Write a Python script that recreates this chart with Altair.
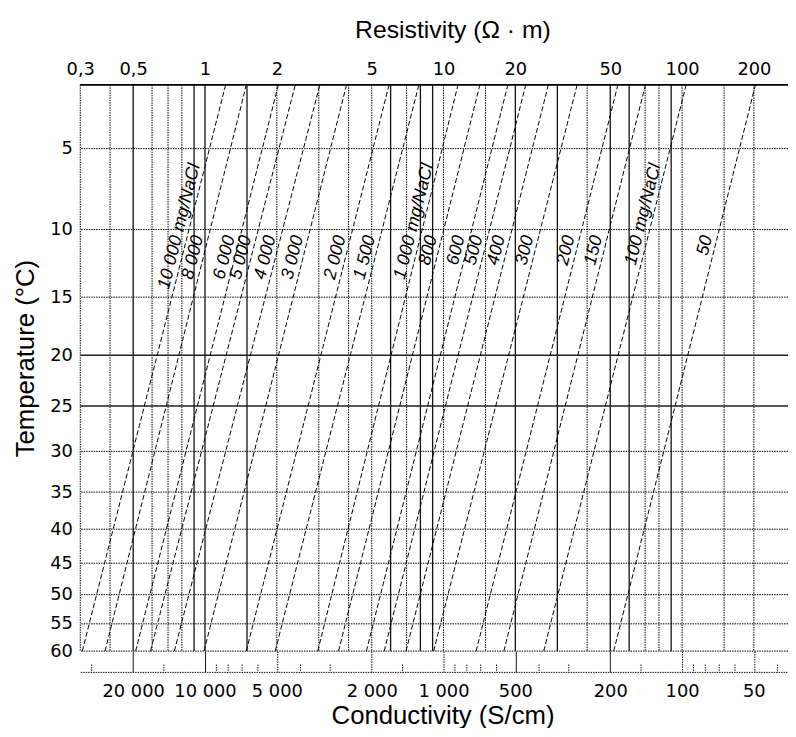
import math
import altair as alt
import pandas as pd

# ---------------- data ----------------
# vertical grid (resistivity, ohm*m)
grid_dotted_R = [0.3, 0.4, 0.6, 0.7, 0.8, 2, 3, 4, 5, 7, 10, 15, 40, 70, 80, 100, 150, 200]
grid_solid_R = [0.5, 0.9, 1, 1.5, 6, 8, 9, 20, 30, 50, 60, 90]
# horizontal grid (temperature, °C)
temp_dotted = [5, 10, 15, 30, 35, 40, 45, 50, 55, 60]
temp_solid = [20, 25]
temp_top = 1.7
temp_bottom = 60
temp_ticks = [5, 10, 15, 20, 25, 30, 35, 40, 45, 50, 55, 60]

top_tick_values = [0.3, 0.5, 1, 2, 5, 10, 20, 50, 100, 200]
top_tick_labels = ["0,3", "0,5", "1", "2", "5", "10", "20", "50", "100", "200"]

cond_major = [20000, 10000, 5000, 2000, 1000, 500, 200, 100, 50]
cond_major_labels = ["20 000", "10 000", "5 000", "2 000", "1 000", "500", "200", "100", "50"]
cond_major_solid = [20000, 10000, 500, 200]
cond_minor = [30000, 15000, 9000, 8000, 7000, 6000, 4000, 3000, 1500, 900, 800,
              700, 600, 400, 300, 150, 90, 80, 70, 60, 40]
COND_PER_RES = 10000.0  # conductivity = 10000 / resistivity

salinity_labels = ["10 000", "8 000", "6 000", "5 000", "4 000", "3 000", "2 000", "1 500",
                   "1 000", "800", "600", "500", "400", "300", "200", "150", "100", "50"]
salinity_unit = ["mg/NaCl", "", "", "", "", "", "", "", "mg/NaCl", "", "", "", "", "",
                 "", "", "mg/NaCl", ""]
# resistivity of each salinity line at top edge and at 60 °C
R_top = [1.22, 1.49, 2.03, 2.39, 3.03, 3.92, 5.91, 7.88, 11.5, 14.2, 18.6, 22.1, 27.5,
         36.3, 53.8, 70.2, 104, 203]
R_bottom = [0.306, 0.381, 0.512, 0.591, 0.744, 0.991, 1.49, 1.97, 2.97, 3.63, 4.75, 5.64,
            6.96, 9.09, 13.7, 17.9, 26.3, 51.7]
label_T = 10.6

# ---------------- tables ----------------
lines_rows = []
for lab, rt, rb in zip(salinity_labels, R_top, R_bottom):
    lines_rows.append({"sal": lab, "T": temp_top, "R": rt})
    lines_rows.append({"sal": lab, "T": temp_bottom, "R": rb})
df_lines = pd.DataFrame(lines_rows)

SYM_C = 18.0
def s(t):
    return math.log1p(t / SYM_C)
frac = (s(label_T) - s(temp_top)) / (s(temp_bottom) - s(temp_top))
lab_rows = []
for lab, unit, rt, rb in zip(salinity_labels, salinity_unit, R_top, R_bottom):
    lr = math.log10(rt) + frac * (math.log10(rb) - math.log10(rt))
    lab_rows.append({"sal": lab, "unit": unit, "T": label_T, "R": 10 ** lr})
df_lab = pd.DataFrame(lab_rows)
df_unit = df_lab[df_lab["unit"] != ""]

df_vdot = pd.DataFrame({"R": grid_dotted_R})
df_vsolid = pd.DataFrame({"R": grid_solid_R})
df_hdot = pd.DataFrame({"T": temp_dotted})
df_hsolid = pd.DataFrame({"T": temp_solid})
df_border = pd.DataFrame({"T": [temp_top]})


def label_expr(values, labels):
    expr = "''"
    for v, l in reversed(list(zip(values, labels))):
        expr = f"datum.value == {v!r} ? '{l}' : ({expr})"
    return expr


major_R = [COND_PER_RES / c for c in cond_major]
major_solid_R = [COND_PER_RES / c for c in cond_major_solid]
minor_R = [COND_PER_RES / c for c in cond_minor]

W, H = 715, 572
FONT = "DejaVu Sans"
TFONT = "Liberation Sans"
DOT = [1.5, 1]
xscale = alt.Scale(type="log", domain=[0.3, 278], nice=False)
yscale = alt.Scale(type="symlog", constant=SYM_C, domain=[temp_top, temp_bottom],
                   reverse=True, nice=False)

top_axis = alt.Axis(orient="top", values=top_tick_values,
                    labelExpr=label_expr(top_tick_values, top_tick_labels),
                    ticks=False, tickSize=0, domain=False, grid=False,
                    labelFont=FONT, labelFontSize=18, labelColor="#000", labelPadding=7,
                    labelFlush=False, labelOverlap=False,
                    title="Resistivity  (Ω · m)", titleFont=TFONT, titleFontSize=25,
                    titleFontWeight="normal", titleColor="#000",
                    titleX=376, titleY=-56, titleAlign="center", titleBaseline="middle")

major_axis = alt.Axis(orient="bottom", values=major_R, labels=False, domain=False,
                      grid=False, ticks=True, tickSize=21, tickWidth=1, tickColor="#111",
                      tickDash={"condition": {"test": f"indexof({major_solid_R}, datum.value) >= 0",
                                              "value": []},
                                "value": DOT},
                      title=None)

minor_axis = alt.Axis(orient="bottom", values=minor_R, labels=False, domain=False,
                      grid=False, ticks=True, tickSize=8, tickWidth=1, tickColor="#222",
                      tickDash=DOT, offset=13, title=None)

cond_axis = alt.Axis(orient="bottom", values=major_R,
                     labelExpr=label_expr(major_R, cond_major_labels),
                     ticks=False, tickSize=0, grid=False, domain=True,
                     domainColor="#111", domainWidth=1, domainDash=DOT, offset=21,
                     labelFont=FONT, labelFontSize=18, labelColor="#000", labelPadding=11,
                     labelFlush=False, labelOverlap=False,
                     title="Conductivity  (S/cm)", titleFont=TFONT, titleFontSize=26,
                     titleFontWeight="normal", titleColor="#000",
                     titleX=366, titleY=44, titleAlign="center", titleBaseline="middle")

left_axis = alt.Axis(orient="left", values=temp_ticks, ticks=False, tickSize=0, domain=False,
                     grid=False, labelFont=FONT, labelFontSize=18, labelColor="#000",
                     labelPadding=8, labelOverlap=False,
                     title="Temperature  (°C)", titleFont=TFONT, titleFontSize=26,
                     titleFontWeight="normal", titleColor="#000", titleAngle=270,
                     titleX=-55, titleY=276, titleAlign="center", titleBaseline="middle")

vdot = alt.Chart(df_vdot).mark_rule(stroke="#000", strokeWidth=1, strokeDash=DOT).encode(
    x=alt.X("R:Q", scale=xscale, axis=top_axis))
vsolid = alt.Chart(df_vsolid).mark_rule(stroke="#111", strokeWidth=1.3).encode(
    x=alt.X("R:Q", scale=xscale, axis=major_axis))
hdot = alt.Chart(df_hdot).mark_rule(stroke="#000", strokeWidth=1, strokeDash=DOT).encode(
    y=alt.Y("T:Q", scale=yscale, axis=left_axis))
hsolid = alt.Chart(df_hsolid).mark_rule(stroke="#222", strokeWidth=1.6).encode(
    y=alt.Y("T:Q", scale=yscale, axis=None))
border = alt.Chart(df_border).mark_rule(stroke="#000", strokeWidth=1.6).encode(
    y=alt.Y("T:Q", scale=yscale, axis=None))
lines = alt.Chart(df_lines).mark_line(stroke="#000", strokeWidth=1, strokeDash=[5, 2.5]).encode(
    x=alt.X("R:Q", scale=xscale, axis=minor_axis),
    y=alt.Y("T:Q", scale=yscale, axis=None),
    detail="sal:N")
labels = alt.Chart(df_lab).mark_text(angle=284, align="right", baseline="bottom", dy=-1,
                                     font=TFONT, fontSize=18, fontStyle="italic",
                                     color="#000").encode(
    x=alt.X("R:Q", scale=xscale, axis=cond_axis),
    y=alt.Y("T:Q", scale=yscale, axis=None),
    text="sal:N")
units = alt.Chart(df_unit).mark_text(angle=284, align="left", baseline="bottom", dy=-1, dx=5,
                                     font=TFONT, fontSize=18, fontStyle="italic",
                                     color="#000").encode(
    x=alt.X("R:Q", scale=xscale, axis=None),
    y=alt.Y("T:Q", scale=yscale, axis=None),
    text="unit:N")

chart = alt.layer(vdot, vsolid, hdot, hsolid, border, lines, labels, units).resolve_axis(
    x="independent", y="independent").properties(
    width=W, height=H,
    autosize=alt.AutoSizeParams(type="none"),
    padding={"left": 73, "top": 74, "right": 0, "bottom": 74},
    background="white",
).configure_view(stroke=None)

chart.save("out.html", embed_options={"renderer": "svg", "actions": False})
